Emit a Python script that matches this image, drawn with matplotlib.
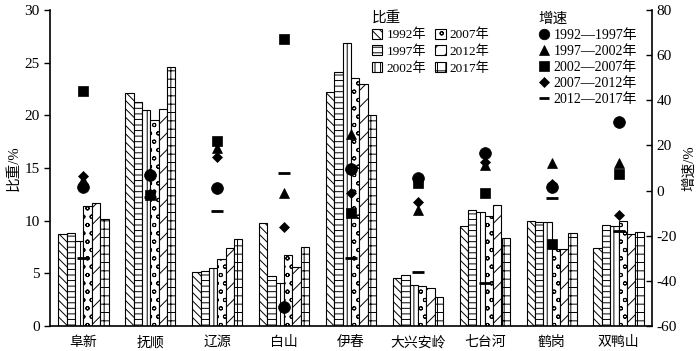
import matplotlib
matplotlib.use("Agg")
import matplotlib.pyplot as plt
import numpy as np
from matplotlib.patches import Patch
from matplotlib.lines import Line2D

plt.rcParams['font.family'] = ['Liberation Serif', 'Noto Sans CJK SC']
plt.rcParams['hatch.linewidth'] = 0.7
plt.rcParams['axes.unicode_minus'] = False

cities = ['阜新', '抚顺', '辽源', '白山', '伊春', '大兴安岭', '七台河', '鹤岗', '双鸭山']
share_years = ['1992年', '1997年', '2002年', '2007年', '2012年', '2017年']
share_1992 = [8.7, 22.1, 5.1, 9.8, 22.2, 4.6, 9.5, 10.0, 7.4]
share_1997 = [8.8, 21.3, 5.2, 4.7, 24.1, 4.8, 11.0, 9.9, 9.6]
share_2002 = [8.1, 20.5, 5.5, 4.1, 26.9, 3.9, 10.8, 9.85, 9.5]
share_2007 = [11.4, 19.6, 6.4, 6.7, 23.5, 3.8, 10.4, 7.3, 10.0]
share_2012 = [11.7, 20.6, 7.4, 5.6, 23.0, 3.6, 11.5, 7.3, 8.7]
share_2017 = [10.2, 24.6, 8.3, 7.5, 20.0, 2.8, 8.4, 8.8, 8.9]

growth_periods = ['1992—1997年', '1997—2002年', '2002—2007年', '2007—2012年', '2012—2017年']
growth_92_97 = [1.5, 7.0, 1.0, -51.5, 9.4, 5.4, 16.8, 1.5, 30.6]
growth_97_02 = [4.5, -1.0, 19.0, -0.9, 25.0, -8.6, 11.4, 12.4, 12.4]
growth_02_07 = [44.0, -2.0, 22.0, 67.0, -9.8, 3.2, -1.2, -23.7, 7.4]
growth_07_12 = [6.5, 8.0, 15.0, -16.0, -1.2, -4.9, 12.8, 3.0, -10.8]
growth_12_17 = [-30.0, -3.0, -9.0, 8.0, -30.0, -36.0, -41.0, -3.4, -17.8]

shares = [share_1992, share_1997, share_2002, share_2007, share_2012, share_2017]
hatches = ['\\\\\\\\', '---', '|||', 'oo', '//', '++']
growths = [growth_92_97, growth_97_02, growth_02_07, growth_07_12, growth_12_17]
markers = ['o', '^', 's', 'D', '_']
msizes = [8.5, 7.5, 7.5, 5.2, 8]

fig = plt.figure(figsize=(7.0, 3.51), dpi=100)
ax = fig.add_axes([50/700, 1-326/351, 602/700, 316/351])
x = np.arange(len(cities))
w = 0.125
for i, (vals, h) in enumerate(zip(shares, hatches)):
    ax.bar(x + (i - 2.5) * w, vals, width=w, facecolor='white', edgecolor='black',
           linewidth=0.8, hatch=h, zorder=2)
ax.set_xlim(-0.5, len(cities) - 0.5)
ax.set_ylim(0, 30)
ax.set_yticks(np.arange(0, 31, 5))
ax.set_xticks(x)
ax.set_xticklabels(cities, fontsize=10)
ax.tick_params(axis='x', length=0, pad=7)
ax.tick_params(axis='y', direction='out', length=4, labelsize=11, width=1)
ax.spines['top'].set_visible(False)
ax.spines['right'].set_visible(False)
for s in ['left', 'bottom']:
    ax.spines[s].set_linewidth(1.2)
ax.set_ylabel('比重/%', fontsize=10.5, labelpad=3)

ax2 = ax.twinx()
for vals, m, ms in zip(growths, markers, msizes):
    ax2.plot(x, vals, linestyle='none', marker=m, markersize=ms, color='black',
             markeredgewidth=2 if m == '_' else 0.5, zorder=3)
ax2.set_ylim(-60, 80)
ax2.set_yticks(np.arange(-60, 81, 20))
ax2.tick_params(axis='y', direction='in', length=4, labelsize=11, width=1)
ax2.spines['top'].set_visible(False)
ax2.spines['left'].set_visible(False)
ax2.spines['bottom'].set_visible(False)
ax2.spines['right'].set_linewidth(1.2)
ax2.set_ylabel('增速/%', fontsize=10.5, labelpad=4)

h1 = [Patch(facecolor='white', edgecolor='black', hatch=h, linewidth=0.8) for h in hatches]
leg1 = fig.legend(h1, share_years, title='比重', loc='upper left', ncol=2,
                  bbox_to_anchor=(364/700, 1 - 3/351), frameon=False, fontsize=9.5,
                  title_fontsize=10.5, handlelength=0.8, handleheight=0.8, handletextpad=0.3,
                  columnspacing=0.7, labelspacing=0.3, borderpad=0.1, alignment='left')
h2 = [Line2D([], [], linestyle='none', marker=m, markersize=ms * 0.9, color='black',
             markeredgewidth=2 if m == '_' else 0.5) for m, ms in zip(markers, msizes)]
leg2 = fig.legend(h2, growth_periods, title='增速', loc='upper left',
                  bbox_to_anchor=(530/700, 1 - 4/351), frameon=False, fontsize=10,
                  title_fontsize=10.5, handlelength=0.8, handletextpad=0.3,
                  labelspacing=0.22, borderpad=0.1, alignment='left')

fig.savefig('out.png', dpi=100)
